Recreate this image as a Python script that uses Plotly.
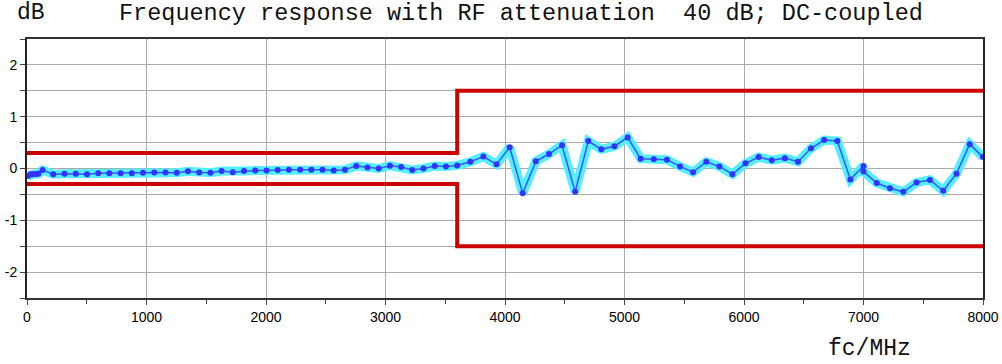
import plotly.graph_objects as go

# ---- data ----
freq_mhz = [10, 30, 50, 75, 95, 130,
            220, 314, 408, 502, 596, 689, 783, 877, 971, 1065, 1159, 1253, 1347,
            1441, 1535, 1628, 1722, 1816, 1910, 2004, 2098, 2192, 2286, 2379, 2473,
            2567, 2661, 2755, 2849, 2943, 3037, 3131, 3224, 3318, 3412, 3506, 3600,
            3710, 3819, 3929, 4039, 4148, 4258, 4368, 4477, 4587, 4697, 4806, 4916,
            5026, 5135, 5245, 5355, 5465, 5574, 5684, 5794, 5903, 6013, 6123, 6232,
            6342, 6452, 6561, 6671, 6781, 6890, 7000,
            7000, 7111, 7222, 7333, 7444, 7556, 7667, 7778, 7889, 8000]
response_db = [-0.145, -0.11, -0.11, -0.105, -0.10, -0.03,
               -0.11, -0.10, -0.10, -0.11, -0.09, -0.09, -0.09, -0.09, -0.08, -0.075, -0.075, -0.08, -0.055,
               -0.075, -0.08, -0.05, -0.07, -0.05, -0.04, -0.04, -0.03, -0.025, -0.025, -0.025, -0.025,
               -0.04, -0.025, 0.05, 0.02, 0.0, 0.055, 0.03, -0.03, 0.0, 0.05, 0.04, 0.06,
               0.13, 0.23, 0.08, 0.41, -0.48, 0.14, 0.28, 0.45, -0.45, 0.53, 0.37, 0.43,
               0.60, 0.19, 0.18, 0.17, 0.04, -0.07, 0.13, 0.04, -0.11, 0.10, 0.22, 0.16,
               0.20, 0.13, 0.39, 0.55, 0.53, -0.21, 0.05,
               -0.06, -0.28, -0.38, -0.45, -0.27, -0.22, -0.43, -0.10, 0.47, 0.22]

limit_x = [0, 3600, 3600, 8000]
limit_upper = [0.3, 0.3, 1.5, 1.5]
limit_lower = [-0.3, -0.3, -1.5, -1.5]

x_ticks = [0, 1000, 2000, 3000, 4000, 5000, 6000, 7000, 8000]
x_tick_text = ["0", "1000", "2000", "3000", "4000", "5000", "6000", "7000", "8000"]
y_ticks = [-2, -1, 0, 1, 2]
y_tick_text = ["-2", "-1", "0", "1", "2"]

title_unit = "dB"
title_text = "Frequency response with RF attenuation\u00a0\u00a040 dB; DC-coupled"
x_label = "fc/MHz"

# ---- figure ----
fig = go.Figure()

# cyan band under the measurement line
fig.add_trace(go.Scatter(x=freq_mhz, y=response_db, mode="lines",
                         line=dict(color="#55eeff", width=9),
                         hoverinfo="skip", showlegend=False))

# limit lines
fig.add_trace(go.Scatter(x=limit_x, y=limit_upper, mode="lines",
                         line=dict(color="#cc0000", width=4), showlegend=False))
fig.add_trace(go.Scatter(x=limit_x, y=limit_lower, mode="lines",
                         line=dict(color="#cc0000", width=4), showlegend=False))

# measurement
fig.add_trace(go.Scatter(x=freq_mhz, y=response_db, mode="lines+markers",
                         line=dict(color="#2f5cff", width=1.5),
                         marker=dict(color="#3333ff", size=6),
                         showlegend=False))

mono = "Liberation Mono, Courier New, monospace"
sans = "Liberation Sans, Arial, sans-serif"

fig.update_layout(
    width=1002, height=364,
    margin=dict(l=27, r=19, t=39, b=66, autoexpand=False),
    paper_bgcolor="white", plot_bgcolor="white",
    showlegend=False,
    font=dict(family=sans, size=14, color="black"),
    xaxis=dict(
        range=[0, 8000], automargin=False,
        tickvals=x_ticks, ticktext=x_tick_text,
        showgrid=True, gridcolor="#aaaaaa", gridwidth=1,
        zeroline=False,
        showline=True, linecolor="#333333", linewidth=2, mirror=True,
        ticks="outside", ticklen=5, tickcolor="#444444",
        minor=dict(dtick=500, ticks="outside", ticklen=4, tickcolor="#444444", showgrid=False),
        tickfont=dict(family=sans, size=14, color="black"),
    ),
    yaxis=dict(
        range=[-2.5, 2.5], automargin=False,
        tickvals=y_ticks, ticktext=y_tick_text,
        showgrid=True, gridcolor="#aaaaaa", gridwidth=1,
        zeroline=False,
        showline=True, linecolor="#222222", linewidth=2, mirror=True,
        ticks="outside", ticklen=5, tickcolor="#444444",
        minor=dict(dtick=0.5, ticks="outside", ticklen=5, tickcolor="#444444",
                   showgrid=True, gridcolor="#aaaaaa", gridwidth=1),
        tickfont=dict(family=sans, size=14, color="black"),
    ),
    annotations=[
        dict(text=title_unit, xref="paper", yref="paper", x=-0.0126, y=1.10,
             xanchor="left", yanchor="middle", showarrow=False,
             font=dict(family=mono, size=23, color="#111111")),
        dict(text=title_text, xref="paper", yref="paper", x=0.0941, y=1.10,
             xanchor="left", yanchor="middle", showarrow=False,
             font=dict(family=mono, size=23.5, color="#111111")),
        dict(text=x_label, xref="paper", yref="paper", x=0.836, y=-0.197,
             xanchor="left", yanchor="middle", showarrow=False,
             font=dict(family=mono, size=23, color="#111111")),
    ],
)

fig.write_html("out.html")
